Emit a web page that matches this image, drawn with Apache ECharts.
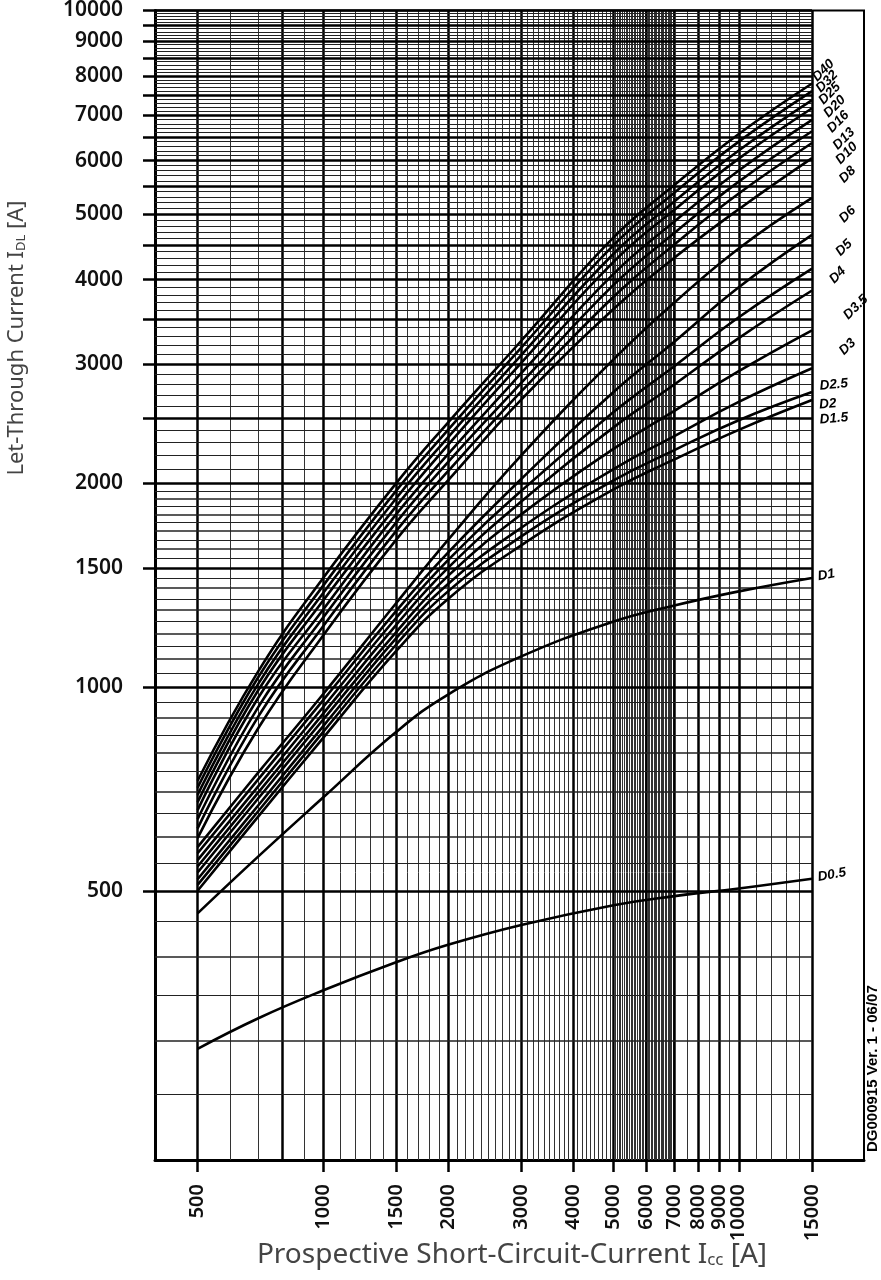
<!DOCTYPE html>
<html>
<head>
<meta charset="UTF-8">
<title>Let-Through Current</title>
<script src="https://cdn.jsdelivr.net/npm/echarts@6/dist/echarts.min.js"></script>
<style>
	html, body { margin: 0; padding: 0; background: #fff; }
	#chart { width: 881px; height: 1280px; }
</style>
</head>
<body>
<div id="chart"></div>
<script type="text/javascript">

	// prospective short-circuit current (A) where the curves were read
	var iccPoints = [500, 700, 1000, 1500, 2000, 3000, 5000, 7000, 10000, 15000];

	// let-through current (A) per fuse size, read at iccPoints
	var d40  = [727, 1056, 1447, 2000, 2460, 3250, 4620, 5520, 6570, 7800];
	var d32  = [710, 1035, 1410, 1950, 2400, 3175, 4500, 5380, 6400, 7600];
	var d25  = [693, 1012, 1375, 1900, 2340, 3095, 4370, 5220, 6210, 7370];
	var d20  = [676, 990, 1340, 1850, 2280, 3015, 4250, 5075, 6040, 7170];
	var d16  = [658, 965, 1300, 1800, 2210, 2910, 4080, 4875, 5800, 6890];
	var d13  = [638, 935, 1265, 1750, 2150, 2815, 3930, 4690, 5585, 6630];
	var d10  = [618, 905, 1228, 1700, 2085, 2735, 3775, 4510, 5365, 6370];
	var d8   = [598, 870, 1190, 1650, 2020, 2660, 3620, 4310, 5085, 6050];
	var d6   = [580, 748, 975, 1330, 1650, 2200, 3050, 3700, 4450, 5285];
	var d5   = [568, 731, 955, 1295, 1580, 2030, 2730, 3240, 3900, 4660];
	var d4   = [555, 714, 933, 1265, 1540, 1950, 2550, 2980, 3520, 4155];
	var d3_5 = [543, 699, 912, 1235, 1500, 1880, 2420, 2800, 3280, 3856];
	var d3   = [532, 685, 894, 1205, 1460, 1800, 2250, 2560, 2930, 3367];
	var d2_5 = [520, 669, 874, 1180, 1420, 1720, 2100, 2350, 2640, 2960];
	var d2   = [510, 656, 857, 1155, 1385, 1670, 2020, 2240, 2480, 2729];
	var d1_5 = [500, 644, 840, 1130, 1350, 1620, 1960, 2170, 2400, 2656];
	var d1   = [463, 562, 686, 858, 975, 1110, 1250, 1320, 1385, 1450];
	var d0_5 = [292, 324, 356, 392, 416, 445, 476, 491, 504, 521];

	var curveNames = ['D40', 'D32', 'D25', 'D20', 'D16', 'D13', 'D10', 'D8', 'D6', 'D5',
	                  'D4', 'D3.5', 'D3', 'D2.5', 'D2', 'D1.5', 'D1', 'D0.5'];
	var curveValues = [d40, d32, d25, d20, d16, d13, d10, d8, d6, d5,
	                   d4, d3_5, d3, d2_5, d2, d1_5, d1, d0_5];

	// axis ticks and labels
	var xTickValues = [500, 1000, 1500, 2000, 3000, 4000, 5000, 6000, 7000, 8000, 9000, 10000, 15000];
	var yTickValues = [500, 1000, 1500, 2000, 2500, 3000, 3500, 4000, 4500, 5000, 5500, 6000,
	                   6500, 7000, 7500, 8000, 8500, 9000, 9500, 10000];
	var yLabelValues = [500, 1000, 1500, 2000, 3000, 4000, 5000, 6000, 7000, 8000, 9000, 10000];

	// grid line runs [from, to, step] and the heavy ones
	var xGridRuns = [[500, 2000, 100], [2000, 5000, 100], [5000, 7000, 50], [7000, 10000, 500], [10000, 15000, 1000]];
	var yGridRuns = [[250, 500, 50], [500, 2000, 50], [2000, 10000, 100]];
	var xGridHeavy = [500, 800, 1000, 1500, 2000, 3000, 4000, 5000, 6000, 7000, 8000, 9000, 10000, 15000];
	var yGridHeavy = yTickValues;

	var X_MIN = 395, X_MAX = 20000, X_GRID_END = 15000;
	var Y_MIN = 200, Y_MAX = 10000;

	// curve label placement: [rotate, dx, dy]
	var labelPlace = [
		[45, 2, -4], [45, 2, 1], [45, 2, 5], [45, 2, 12], [45, 2, 17], [45, 2, 25],
		[45, 2, 29], [45, 2, 34], [45, 2, 34], [45, 2, 29], [45, 2, 20], [45, 2, 40],
		[45, 2, 34], [5, 2, 18], [5, 2, 13], [5, 2, 20], [10, 2, -1], [10, 2, -1]
	];

	function expand(runs) {
		var out = [];
		runs.forEach(function (r) {
			for (var v = r[0]; v <= r[1]; v += r[2]) {
				if (out.indexOf(v) < 0) out.push(v);
			}
		});
		return out;
	}

	function gridLines() {
		var lines = [];
		expand(xGridRuns).forEach(function (v) {
			var heavy = xGridHeavy.indexOf(v) >= 0;
			var ls = { color: heavy ? '#000' : '#333', width: heavy ? 2.5 : 1, type: 'solid' };
			lines.push([{ coord: [v, Y_MIN], lineStyle: ls }, { coord: [v, Y_MAX] }]);
		});
		expand(yGridRuns).forEach(function (v) {
			var heavy = yGridHeavy.indexOf(v) >= 0;
			var mid = !heavy && v % 100 === 0 && v < 2000;
			var ls = { color: heavy ? '#000' : '#222', width: heavy ? 2.5 : (mid ? 1.5 : 1), type: 'solid' };
			lines.push([{ coord: [X_MIN, v], lineStyle: ls }, { coord: [X_GRID_END, v] }]);
		});
		return lines;
	}

	function buildSeries() {
		var series = [{
			name: 'grid',
			type: 'line',
			data: [],
			silent: true,
			markLine: {
				z: 1,
				silent: true,
				symbol: ['none', 'none'],
				label: { show: false },
				emphasis: { disabled: true },
				data: gridLines()
			}
		}];
		curveNames.forEach(function (name, i) {
			var pts = iccPoints.map(function (x, k) { return [x, curveValues[i][k]]; });
			var lp = labelPlace[i];
			series.push({
				name: name,
				type: 'line',
				z: 3,
				data: pts,
				smooth: 0.45,
				symbol: 'none',
				silent: true,
				lineStyle: { color: '#000', width: 2.6 },
				endLabel: {
					show: true,
					formatter: name,
					rotate: lp[0],
					offset: [lp[1], lp[2]],
					distance: 4,
					color: '#000',
					fontSize: 13.5,
					fontStyle: 'italic',
					fontWeight: 'bold',
					fontFamily: 'Liberation Sans'
				}
			});
		});
		return series;
	}

	function plain(v) {
		return String(Math.round(v));
	}

	function init() {
		var chart = echarts.init(document.getElementById('chart'));
		var labelFont = { fontSize: 20, color: '#111', fontWeight: 600, fontFamily: 'Noto Sans', formatter: plain };

		var option = {
			animation: false,
			backgroundColor: '#fff',
			textStyle: { fontFamily: 'Noto Sans' },
			grid: {
				left: 155, right: 17, top: 8, bottom: 120,
				show: true, borderColor: '#000', borderWidth: 2
			},
			xAxis: {
				type: 'log',
				logBase: 10,
				min: X_MIN,
				max: X_MAX,
				axisLine: { show: true, onZero: false, lineStyle: { color: '#000', width: 3 } },
				axisTick: { show: true, customValues: xTickValues, length: 12, lineStyle: { color: '#000', width: 2.5 } },
				axisLabel: Object.assign({ customValues: xTickValues, rotate: 90, margin: 24 }, labelFont),
				splitLine: { show: false },
				minorTick: { show: false }
			},
			yAxis: {
				type: 'log',
				logBase: 10,
				min: Y_MIN,
				max: Y_MAX,
				axisLine: { show: true, onZero: false, lineStyle: { color: '#000', width: 3 } },
				axisTick: { show: true, customValues: yTickValues, length: 12, lineStyle: { color: '#000', width: 2.5 } },
				axisLabel: Object.assign({ customValues: yLabelValues, margin: 32 }, labelFont, { fontSize: 21 }),
				splitLine: { show: false },
				minorTick: { show: false }
			},
			graphic: [{
				type: 'text',
				x: 17, y: 338,
				rotation: Math.PI / 2,
				silent: true,
				style: {
					text: '{a|Let-Through Current I}{b|DL}{a| [A]}',
					align: 'center',
					verticalAlign: 'middle',
					rich: {
						a: { fontSize: 22, fill: '#444', fontFamily: 'Noto Sans' },
						b: { fontSize: 13, fill: '#444', fontFamily: 'Noto Sans', verticalAlign: 'bottom' }
					}
				}
			}, {
				type: 'text',
				x: 512, y: 1255,
				silent: true,
				style: {
					text: '{a|Prospective Short-Circuit-Current I}{b|cc}{a| [A]}',
					align: 'center',
					verticalAlign: 'middle',
					rich: {
						a: { fontSize: 28, fill: '#444', fontFamily: 'Noto Sans' },
						b: { fontSize: 17, fill: '#444', fontFamily: 'Noto Sans', verticalAlign: 'bottom' }
					}
				}
			}, {
				type: 'text',
				x: 873, y: 1152,
				rotation: Math.PI / 2,
				silent: true,
				style: {
					text: 'DG000915 Ver. 1 - 06/07',
					align: 'left',
					verticalAlign: 'middle',
					fontSize: 15,
					fontWeight: 'bold',
					fontFamily: 'Liberation Sans',
					fill: '#000'
				}
			}],
			series: buildSeries()
		};

		chart.setOption(option);
	}

	window.onload = function () {
		init();
	};
</script>
</body>
</html>
